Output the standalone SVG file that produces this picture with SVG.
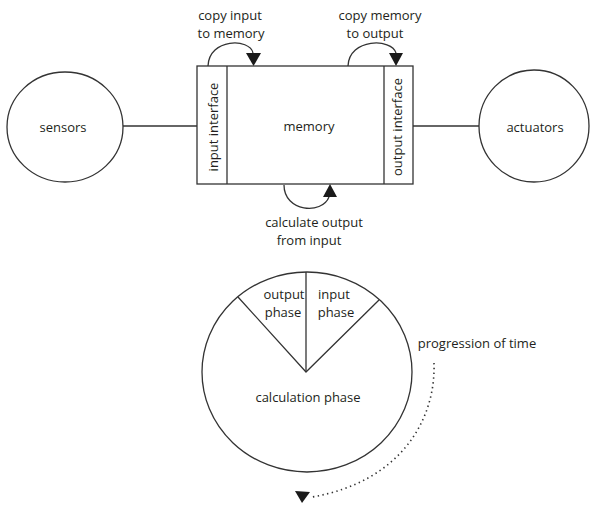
<svg xmlns="http://www.w3.org/2000/svg" width="591" height="506" viewBox="0 0 591 506">
  <style>
    .ln { fill: none; stroke: #333; stroke-width: 1.3; }
    .sh { fill: #fff; stroke: #333; stroke-width: 1.3; }
    .hd { fill: #1a1a1a; stroke: none; }
    text { font-family: "Open Sans", "Liberation Sans", sans-serif; font-size: 13px; fill: #231f20; text-anchor: middle; }
    .dot { fill: none; stroke: #333; stroke-width: 1.6; stroke-dasharray: 1.4 3.4; }
  </style>
  <rect width="591" height="506" fill="#fff"/>

  <g id="connectors">
    <line class="ln" x1="123" y1="126" x2="197" y2="126"/>
    <line class="ln" x1="413" y1="126" x2="479" y2="126"/>
    <!-- copy input to memory -->
    <path class="ln" d="M208,66 C209,38 250,38 253,53"/>
    <polygon class="hd" points="246,53 261,53 253.5,66"/>
    <!-- copy memory to output -->
    <path class="ln" d="M348,66 C349,38 392,38 396,53"/>
    <polygon class="hd" points="389,53 403,53 396,66"/>
    <!-- calculate output from input -->
    <path class="ln" d="M284,185 C284,212 322,215 329,197"/>
    <polygon class="hd" points="323,197 337,197 330,184"/>
    <!-- progression of time -->
    <path class="dot" d="M434,363 C436,420 400,482 312,497"/>
    <polygon class="hd" points="295,491 310,492 302,503"/>
  </g>

  <g id="sensors">
    <ellipse class="sh" cx="65" cy="127" rx="58" ry="55"/>
    <text x="63" y="132">sensors</text>
  </g>

  <g id="actuators">
    <ellipse class="sh" cx="534" cy="126" rx="55" ry="56"/>
    <text x="535" y="132">actuators</text>
  </g>

  <g id="controller">
    <rect class="sh" x="197" y="66" width="216" height="118"/>
    <line class="ln" x1="227" y1="66" x2="227" y2="184"/>
    <line class="ln" x1="384" y1="66" x2="384" y2="184"/>
    <text x="309" y="131">memory</text>
    <text transform="translate(213,127) rotate(-90)" y="5">input interface</text>
    <text transform="translate(397,127) rotate(-90)" y="5">output interface</text>
  </g>

  <g id="labels">
    <text x="230" y="20">copy input</text>
    <text x="231" y="38">to memory</text>
    <text x="380" y="20">copy memory</text>
    <text x="375" y="38">to output</text>
    <text x="314" y="227">calculate output</text>
    <text x="309" y="245">from input</text>
    <text x="477" y="348">progression of time</text>
  </g>

  <g id="cycle">
    <ellipse class="sh" cx="307" cy="372" rx="105" ry="100"/>
    <polyline class="ln" points="238,297 306,372 379,300"/>
    <line class="ln" x1="306" y1="272" x2="306" y2="372"/>
    <text x="284" y="299">output</text>
    <text x="283" y="317">phase</text>
    <text x="334" y="299">input</text>
    <text x="336" y="317">phase</text>
    <text x="308" y="402">calculation phase</text>
  </g>
</svg>
